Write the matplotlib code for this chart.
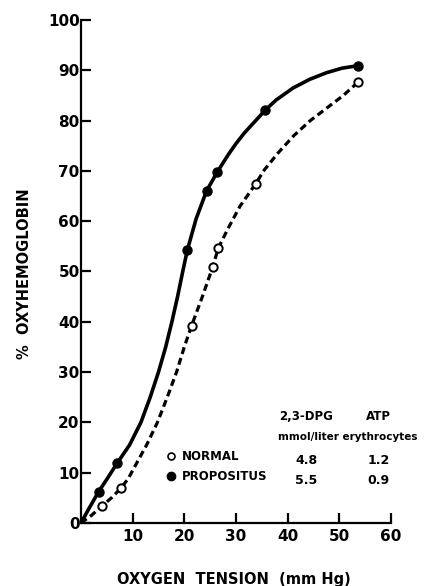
import matplotlib
matplotlib.use("Agg")
import matplotlib.pyplot as plt
from matplotlib.lines import Line2D

# measured points
normal_x = [4.1, 7.8, 21.4, 25.5, 26.6, 33.8, 53.7]
normal_y = [3.4, 7.0, 39.2, 50.9, 54.7, 67.4, 87.7]
prop_x = [3.4, 7.0, 20.6, 24.3, 26.4, 35.7, 53.6]
prop_y = [6.2, 11.9, 54.3, 66.0, 69.8, 82.1, 90.9]

# hand-drawn curves
normal_curve_x = [0, 2.0, 4.1, 6.0, 7.8, 9.2, 10.4, 12.7, 14.8, 16.7, 18.5, 20.0, 21.4,
                  23.5, 25.5, 26.6, 28.5, 30.8, 33.8, 35.5, 38.1, 41.2, 44.4, 47.6, 50.8, 53.7]
normal_curve_y = [0, 1.5, 3.4, 5.1, 7.0, 8.9, 11.2, 15.5, 20, 25, 30, 35, 39.2,
                  45, 50.9, 54.7, 58.6, 63.0, 67.4, 70.2, 73.5, 77.0, 80.0, 82.5, 85.0, 87.7]
prop_curve_x = [0, 1.5, 3.4, 5.2, 7.0, 9.4, 11.6, 13.4, 15.0, 16.4, 17.6, 18.7, 19.7,
                20.6, 22.3, 24.3, 26.4, 28.5, 30.0, 31.6, 35.7, 37.8, 41.1, 44.3, 47.5, 50.5, 53.6]
prop_curve_y = [0, 2.8, 6.2, 9.0, 11.9, 15.5, 20, 25, 30, 35, 40, 45, 50,
                54.3, 60.5, 66.0, 69.8, 73.2, 75.4, 77.5, 82.1, 84.1, 86.5, 88.2, 89.5, 90.4, 90.9]

xticks = [10, 20, 30, 40, 50, 60]
yticks = [0, 10, 20, 30, 40, 50, 60, 70, 80, 90, 100]

groups = ["NORMAL", "PROPOSITUS"]
dpg = ["4.8", "5.5"]
atp = ["1.2", "0.9"]

fig = plt.figure(figsize=(4.24, 5.86), dpi=100)
ax = fig.add_axes([0.191, 0.1075, 0.731, 0.8585])

ax.plot(prop_curve_x, prop_curve_y, "k-", lw=2.6, solid_capstyle="round", solid_joinstyle="round")
ax.plot(normal_curve_x, normal_curve_y, "k--", lw=2.3, dashes=(2.2, 1.3))
ax.plot(prop_x, prop_y, "o", color="k", ms=6.5, ls="none", zorder=3)
ax.plot(normal_x, normal_y, "o", mfc="white", mec="k", mew=1.4, ms=6, ls="none", zorder=3)

ax.set_xlim(0, 60)
ax.set_ylim(0, 100)
ax.set_xticks(xticks)
ax.set_yticks(yticks)
for s in ["top", "right"]:
    ax.spines[s].set_visible(False)
for s in ["left", "bottom"]:
    ax.spines[s].set_linewidth(1.6)
ax.tick_params(direction="in", length=7, width=1.6, labelsize=11)
for lab in ax.get_xticklabels() + ax.get_yticklabels():
    lab.set_fontweight("bold")
ax.tick_params(axis="y", pad=1)
ax.tick_params(axis="x", pad=4)

ax.set_xlabel("OXYGEN  TENSION  (mm Hg)", fontsize=10.5, fontweight="bold")
ax.xaxis.set_label_coords(0.494, -0.097)
ax.set_ylabel("%  OXYHEMOGLOBIN", fontsize=10.5, fontweight="bold")
ax.yaxis.set_label_coords(-0.158, 0.495)

# legend with table
handles = [Line2D([], [], marker="o", ls="none", mfc="white", mec="k", mew=1.2, ms=5),
           Line2D([], [], marker="o", ls="none", color="k", ms=6)]
ax.legend(handles, groups, loc="upper left", bbox_to_anchor=(0.275, 0.145),
          frameon=False, prop={"size": 8.5, "weight": "bold"}, handlelength=0.8,
          handletextpad=0.5, borderpad=0, borderaxespad=0, labelspacing=0.6)

ax.text(43.6, 21.1, "2,3-DPG", fontsize=8.5, fontweight="bold", ha="center", va="center")
ax.text(57.6, 21.1, "ATP", fontsize=8.5, fontweight="bold", ha="center", va="center")
ax.text(51.6, 17.1, "mmol/liter erythrocytes", fontsize=7.5, fontweight="bold",
        ha="center", va="center")
for i in range(len(groups)):
    y = 12.5 - 4 * i
    ax.text(43.6, y, dpg[i], fontsize=9, fontweight="bold", ha="center", va="center")
    ax.text(57.6, y, atp[i], fontsize=9, fontweight="bold", ha="center", va="center")

fig.savefig("out.png", dpi=100)
